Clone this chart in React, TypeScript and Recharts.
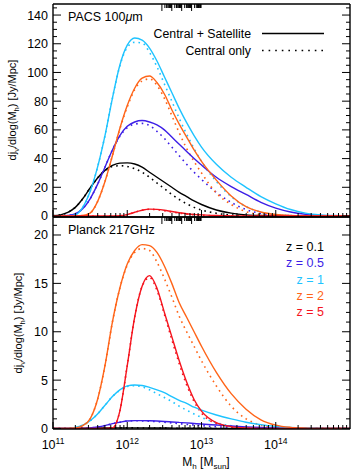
import React from 'react';
import { LineChart, Line, XAxis, YAxis } from 'recharts';

// log10(M_h / M_sun) sampling
const logM = [11.0, 11.1, 11.2, 11.3, 11.4, 11.5, 11.6, 11.7, 11.8, 11.9, 12.0, 12.1, 12.2, 12.3, 12.4, 12.5, 12.6, 12.7, 12.8, 12.9, 13.0, 13.2, 13.4, 13.6, 13.8, 14.0, 14.2, 14.4, 14.6, 14.8, 15.0];

// PACS 100um panel (all = central + satellite, cen = central only)
const pacsAllZ01 = [0.2, 0.8, 2.5, 6, 12, 19.5, 26.5, 31.8, 35.2, 36.8, 37, 36.2, 34, 30.5, 27, 23.5, 20, 16.5, 13.5, 10.5, 8, 4.2, 2, 0.8, 0.3, 0.1, 0, 0, 0, 0, 0];
const pacsCenZ01 = [0.2, 0.8, 2.5, 6, 12, 19.5, 26.5, 31.6, 34.5, 35, 34.5, 33, 30.5, 27, 23, 19, 15, 11.5, 8.5, 6, 4.2, 1.9, 0.7, 0.2, 0.05, 0, 0, 0, 0, 0, 0];
const pacsAllZ05 = [0, 0.1, 0.4, 1.5, 5, 12, 22, 34, 46, 56, 62.5, 65.5, 66.5, 65.5, 63.5, 60, 55, 50, 45, 40, 35.5, 27, 20.5, 15, 9.5, 5.5, 2.8, 1.2, 0.4, 0.1, 0];
const pacsCenZ05 = [0, 0.1, 0.4, 1.5, 5, 12, 22, 34, 46, 55.5, 61.5, 64, 64.5, 63, 59, 54, 48, 42, 36, 30.5, 25.5, 16.5, 9.5, 4.5, 1.8, 0.6, 0.2, 0, 0, 0, 0];
const pacsAllZ1 = [0, 0, 0.1, 0.8, 6, 17, 34, 56, 82, 105, 119, 124, 122.5, 117, 108, 97, 86, 75, 65, 56, 48, 36, 27, 20, 13.5, 8.5, 4.5, 2, 0.8, 0.3, 0.1];
const pacsCenZ1 = [0, 0, 0.1, 0.8, 6, 17, 34, 56, 82, 104.5, 117.5, 121, 120.5, 114, 104, 92, 80, 68, 57, 47, 38, 24, 13.5, 6.5, 2.7, 1, 0.3, 0.1, 0, 0, 0];
const pacsAllZ2 = [0, 0, 0, 0.05, 0.3, 2, 10, 24, 42, 61, 77, 89, 96, 97.5, 93, 85, 74, 64, 55, 46, 38, 25, 14, 6.5, 2.8, 1, 0.3, 0.1, 0, 0, 0];
const pacsCenZ2 = [0, 0, 0, 0.05, 0.3, 2, 10, 24, 42, 60.5, 76, 88, 94, 95.5, 91, 82, 70, 58, 47, 38, 30, 16, 8, 3, 1, 0.3, 0.1, 0, 0, 0, 0];
const pacsAllZ5 = [0, 0, 0, 0, 0, 0, 0, 0, 0, 0.2, 1, 2.6, 4, 4.8, 4.6, 4, 3.1, 2.3, 1.6, 1.1, 0.8, 0.3, 0.1, 0, 0, 0, 0, 0, 0, 0, 0];
const pacsCenZ5 = [0, 0, 0, 0, 0, 0, 0, 0, 0, 0.2, 1, 2.6, 4, 4.7, 4.4, 3.7, 2.8, 2, 1.3, 0.8, 0.5, 0.15, 0.05, 0, 0, 0, 0, 0, 0, 0, 0];

// Planck 217GHz panel
const plAllZ01 = [0, 0.005, 0.01, 0.02, 0.03, 0.04, 0.05, 0.06, 0.065, 0.07, 0.07, 0.07, 0.065, 0.06, 0.055, 0.05, 0.045, 0.04, 0.035, 0.03, 0.025, 0.015, 0.01, 0.005, 0, 0, 0, 0, 0, 0, 0];
const plCenZ01 = [0, 0.005, 0.01, 0.02, 0.03, 0.04, 0.05, 0.06, 0.065, 0.068, 0.066, 0.063, 0.058, 0.052, 0.046, 0.04, 0.034, 0.028, 0.023, 0.018, 0.014, 0.008, 0.004, 0.002, 0, 0, 0, 0, 0, 0, 0];
const plAllZ05 = [0, 0, 0, 0, 0, 0.05, 0.15, 0.3, 0.5, 0.65, 0.78, 0.82, 0.82, 0.8, 0.77, 0.73, 0.68, 0.63, 0.58, 0.52, 0.46, 0.36, 0.26, 0.17, 0.1, 0.05, 0.02, 0, 0, 0, 0];
const plCenZ05 = [0, 0, 0, 0, 0, 0.05, 0.15, 0.3, 0.5, 0.65, 0.77, 0.8, 0.79, 0.76, 0.71, 0.65, 0.58, 0.5, 0.43, 0.36, 0.3, 0.18, 0.1, 0.05, 0.02, 0, 0, 0, 0, 0, 0];
const plAllZ1 = [0, 0, 0, 0.1, 0.35, 0.8, 1.5, 2.4, 3.3, 4, 4.4, 4.5, 4.45, 4.25, 4, 3.7, 3.3, 2.9, 2.6, 2.2, 1.9, 1.4, 1.0, 0.65, 0.4, 0.22, 0.1, 0.05, 0.02, 0, 0];
const plCenZ1 = [0, 0, 0, 0.1, 0.35, 0.8, 1.5, 2.4, 3.3, 3.95, 4.35, 4.42, 4.3, 4.0, 3.6, 3.2, 2.8, 2.3, 1.9, 1.5, 1.15, 0.6, 0.28, 0.1, 0.03, 0, 0, 0, 0, 0, 0];
const plAllZ2 = [0, 0, 0, 0.05, 0.3, 1, 3, 6.5, 11, 14.5, 17, 18.4, 19, 18.9, 18.2, 16.8, 15, 13, 11.5, 10, 8.5, 5.8, 3.6, 2, 0.9, 0.35, 0.12, 0.04, 0, 0, 0];
const plCenZ2 = [0, 0, 0, 0.05, 0.3, 1, 3, 6.5, 11, 14.5, 16.9, 18.2, 18.6, 18.4, 17.2, 15.5, 13.6, 11.6, 10, 8.5, 7, 4.4, 2.3, 1, 0.35, 0.1, 0, 0, 0, 0, 0];
const plAllZ5 = [0, 0, 0, 0, 0, 0, 0, 0, 0.05, 1.8, 6.5, 11.5, 14.7, 15.8, 14.5, 12, 9.5, 7, 4.8, 3, 1.8, 0.6, 0.2, 0.05, 0, 0, 0, 0, 0, 0, 0];
const plCenZ5 = [0, 0, 0, 0, 0, 0, 0, 0, 0.05, 1.8, 6.5, 11.5, 14.7, 15.6, 14.3, 11.8, 9.2, 6.7, 4.5, 2.8, 1.6, 0.5, 0.15, 0.03, 0, 0, 0, 0, 0, 0, 0];

const redshifts = ['0.1', '0.5', '1', '2', '5'];
const zColors = ['#000000', '#3c1ee6', '#1ec3ff', '#ff6418', '#f5141e'];

const xMajor = [11, 12, 13, 14];
const xExp = ['11', '12', '13', '14'];
const xMinor = [11, 12, 13, 14].flatMap((d) => [2, 3, 4, 5, 6, 7, 8, 9].map((k) => d + Math.log10(k)));

const topMajor = [0, 20, 40, 60, 80, 100, 120, 140];
const topMinor = Array.from({ length: 30 }, (_, i) => i * 5);
const botMajor = [0, 5, 10, 15, 20];
const botMinor = Array.from({ length: 22 }, (_, i) => i);

const FONT = '"Liberation Sans", Arial, Helvetica, sans-serif';

const topRows = logM.map((m, i) => ({
  m,
  a0: pacsAllZ01[i], c0: pacsCenZ01[i],
  a1: pacsAllZ05[i], c1: pacsCenZ05[i],
  a2: pacsAllZ1[i], c2: pacsCenZ1[i],
  a3: pacsAllZ2[i], c3: pacsCenZ2[i],
  a4: pacsAllZ5[i], c4: pacsCenZ5[i],
}));

const botRows = logM.map((m, i) => ({
  m,
  a0: plAllZ01[i], c0: plCenZ01[i],
  a1: plAllZ05[i], c1: plCenZ05[i],
  a2: plAllZ1[i], c2: plCenZ1[i],
  a3: plAllZ2[i], c3: plCenZ2[i],
  a4: plAllZ5[i], c4: plCenZ5[i],
}));

const isIn = (arr: number[], v: number) => arr.some((a) => Math.abs(a - v) < 1e-6);

function Panel({ rows, yDomain, yMajor, yMinor, top, height, topH, botH, xLabels }: any) {
  const frame = { stroke: '#000', strokeWidth: 1.4 };
  return (
    <div style={{ position: 'absolute', left: 0, top }}>
      <LineChart width={354} height={height} data={rows} margin={{ top: 0, right: 0, bottom: 0, left: 0 }}>
        <XAxis
          dataKey="m" type="number" domain={[11, 15]} allowDataOverflow
          ticks={[...xMajor, ...xMinor]} interval={0} height={botH}
          tickSize={0} tickMargin={0} axisLine={frame}
          tick={(p: any) => {
            const major = isIn(xMajor, p.payload.value);
            const idx = xMajor.findIndex((v) => Math.abs(v - p.payload.value) < 1e-6);
            return (
              <g key={p.index}>
                <line x1={p.x} x2={p.x} y1={p.y} y2={p.y - (major ? 7 : 4)} stroke="#000" strokeWidth={1} />
                {major && xLabels && (
                  <text x={p.x} y={p.y + 20} textAnchor="middle" fontFamily={FONT} fontSize={12.5} fill="#000">
                    10<tspan dy={-5} fontSize={8.5}>{xExp[idx]}</tspan>
                  </text>
                )}
              </g>
            );
          }}
        />
        <XAxis
          xAxisId="t" orientation="top" type="number" domain={[11, 15]} allowDataOverflow
          ticks={[...xMajor, ...xMinor]} interval={0} height={topH}
          tickSize={0} tickMargin={0} axisLine={frame}
          tick={(p: any) => {
            const major = isIn(xMajor, p.payload.value);
            return <line key={p.index} x1={p.x} x2={p.x} y1={p.y} y2={p.y + (major ? 7 : 4)} stroke="#000" strokeWidth={1} />;
          }}
        />
        <YAxis
          type="number" domain={yDomain} allowDataOverflow
          ticks={yMinor} interval={0} width={53}
          tickSize={0} tickMargin={0} axisLine={frame}
          tick={(p: any) => {
            const major = isIn(yMajor, p.payload.value);
            return (
              <g key={p.index}>
                <line x1={p.x} x2={p.x + (major ? 8 : 4)} y1={p.y} y2={p.y} stroke="#000" strokeWidth={1} />
                {major && (
                  <text x={p.x - 5} y={p.y} dy={4.5} textAnchor="end" fontFamily={FONT} fontSize={12.5} fill="#000">
                    {p.payload.value}
                  </text>
                )}
              </g>
            );
          }}
        />
        <YAxis
          yAxisId="r" orientation="right" type="number" domain={yDomain} allowDataOverflow
          ticks={yMinor} interval={0} width={4}
          tickSize={0} tickMargin={0} axisLine={frame}
          tick={(p: any) => {
            const major = isIn(yMajor, p.payload.value);
            return <line key={p.index} x1={p.x} x2={p.x - (major ? 8 : 4)} y1={p.y} y2={p.y} stroke="#000" strokeWidth={1} />;
          }}
        />
        {redshifts.map((z, i) => (
          <Line key={'c' + z} dataKey={'c' + i} type="monotone" stroke={zColors[i]} strokeWidth={1.6}
            strokeDasharray="1.6 4" dot={false} activeDot={false} isAnimationActive={false} />
        ))}
        {redshifts.map((z, i) => (
          <Line key={'a' + z} dataKey={'a' + i} type="monotone" stroke={zColors[i]} strokeWidth={1.4}
            dot={false} activeDot={false} isAnimationActive={false} />
        ))}
      </LineChart>
    </div>
  );
}

function YLabel({ x, y }: { x: number; y: number }) {
  return (
    <text x={x} y={y} transform={`rotate(-90 ${x} ${y})`} textAnchor="middle" fontFamily={FONT} fontSize={11} fill="#000">
      dj<tspan fontSize={7.5} dy={3}>ν</tspan>
      <tspan dy={-3}>/dlog(M</tspan>
      <tspan fontSize={7.5} dy={3}>h</tspan>
      <tspan dy={-3}>) [Jy/Mpc]</tspan>
    </text>
  );
}

export default function App() {
  return (
    <div style={{ position: 'absolute', left: 0, top: 0, width: 354, height: 472, background: '#fff' }}>
      <Panel rows={topRows} yDomain={[-0.7, 147.7]} yMajor={topMajor} yMinor={topMinor}
        top={0} height={226} topH={4} botH={9} xLabels={false} />
      <Panel rows={botRows} yDomain={[-0.05, 21.86]} yMajor={botMajor} yMinor={botMinor}
        top={213} height={259} topH={4} botH={43} xLabels={true} />
      <svg width={354} height={472} style={{ position: 'absolute', left: 0, top: 0, pointerEvents: 'none' }}>
        <text x={68} y={21} fontFamily={FONT} fontSize={12.5} fill="#000">
          PACS 100<tspan fontStyle="italic">μ</tspan>m
        </text>
        <text x={251} y={37.5} textAnchor="end" fontFamily={FONT} fontSize={12.3} fill="#000">Central + Satellite</text>
        <text x={251} y={54.5} textAnchor="end" fontFamily={FONT} fontSize={12.3} fill="#000">Central only</text>
        <line x1={262} x2={324} y1={33.5} y2={33.5} stroke="#000" strokeWidth={1.4} />
        <line x1={262} x2={324} y1={50.5} y2={50.5} stroke="#000" strokeWidth={1.6} strokeDasharray="1.6 5" />
        <text x={68} y={234} fontFamily={FONT} fontSize={12.5} fill="#000">Planck 217GHz</text>
        {redshifts.map((z, i) => (
          <text key={z} x={324} y={251 + i * 16.3} textAnchor="end" fontFamily={FONT} fontSize={12.5} fill={zColors[i]}>
            z = {z}
          </text>
        ))}
        <YLabel x={16} y={110} />
        <YLabel x={22} y={323} />
        <text x={206} y={466} textAnchor="middle" fontFamily={FONT} fontSize={12} fill="#000">
          M<tspan fontSize={8} dy={2.5}>h</tspan>
          <tspan dy={-2.5}> [M</tspan>
          <tspan fontSize={8} dy={2.5}>sun</tspan>
          <tspan dy={-2.5}>]</tspan>
        </text>
      </svg>
    </div>
  );
}
